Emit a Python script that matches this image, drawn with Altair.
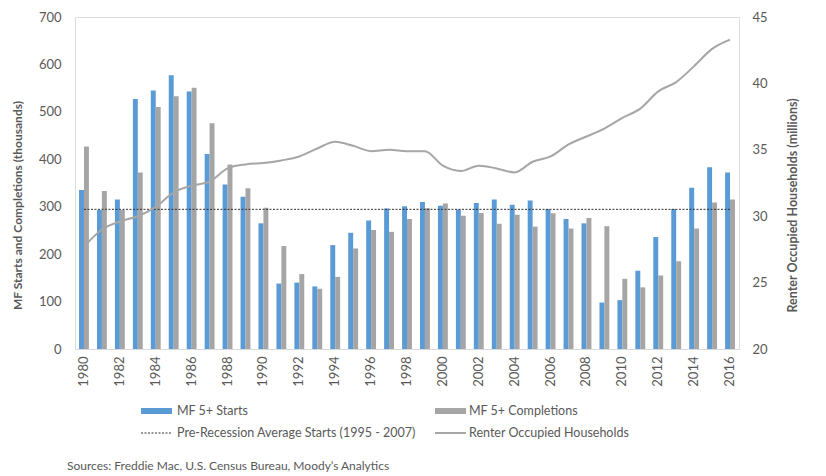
import altair as alt
import pandas as pd

# ---- data -----------------------------------------------------------------
years = list(range(1980, 2017))

# Multifamily (5+ units) starts and completions, thousands
mf_starts = [335, 293, 315, 527, 545, 577, 543, 411, 347, 321,
             265, 138, 140, 132, 219, 245, 271, 296, 301, 310,
             302, 294, 308, 315, 304, 313, 295, 274, 265, 98,
             103, 165, 236, 295, 340, 383, 372]
mf_completions = [427, 333, 293, 372, 510, 533, 551, 476, 389, 339,
                  298, 217, 158, 127, 152, 212, 251, 247, 274, 297,
                  307, 281, 287, 264, 283, 258, 286, 254, 276, 259,
                  148, 130, 155, 185, 254, 309, 315]

# Renter occupied households, millions
renter_households = [27.7, 29.0, 29.6, 30.0, 30.7, 31.8, 32.3, 32.6, 33.6, 33.9,
                     34.0, 34.2, 34.5, 35.1, 35.6, 35.3, 34.9, 35.0, 34.9, 34.9,
                     33.8, 33.4, 33.8, 33.6, 33.3, 34.1, 34.5, 35.4, 36.0, 36.6,
                     37.4, 38.1, 39.4, 40.1, 41.3, 42.6, 43.3]

series_names = ["MF 5+ Starts", "MF 5+ Completions"]
line_names = ["Pre-Recession Average Starts (1995 - 2007)", "Renter Occupied Households"]
source_note = "Sources: Freddie Mac, U.S. Census Bureau, Moody\u2019s Analytics"

# ---- tables ---------------------------------------------------------------
bars_df = pd.DataFrame({
    "year": years * 2,
    "series": [series_names[0]] * len(years) + [series_names[1]] * len(years),
    "value": mf_starts + mf_completions,
})

# average of starts over 1995-2007
pre_avg = sum(v for y, v in zip(years, mf_starts) if 1995 <= y <= 2007) / 13
avg_df = pd.DataFrame({"year": years, "avg": [pre_avg] * len(years)})
renter_df = pd.DataFrame({"year": years, "renter": renter_households})

# ---- style ----------------------------------------------------------------
FONT = "Lato"
TXT = "#595959"
BLUE = "#5b9bd5"
GREY = "#a5a5a5"
LINE_GREY = "#a6a6a6"
W, H = 664, 332

x_enc = alt.X(
    "year:O",
    scale=alt.Scale(paddingInner=0.45, paddingOuter=0.225),
    axis=alt.Axis(
        values=list(range(1980, 2017, 2)), labelAngle=270, labelPadding=7,
        labelFontSize=13, labelColor=TXT, labelFont=FONT, ticks=False,
        domainColor="#d9d9d9", domainWidth=1, grid=False, title=None,
    ),
)

left_title = "MF Starts and Completions (thousands)"
left_axis = alt.Axis(
    values=list(range(0, 701, 100)), labelPadding=14, labelFontSize=13,
    labelColor=TXT, labelFont=FONT, ticks=False, domain=False, grid=False,
    title=left_title, titleFont=FONT, titleFontSize=12, titleFontWeight="bold",
    titleColor=TXT, titleAngle=270, titleX=-58, titleY=188, titleBaseline="middle",
)
left_scale = alt.Scale(domain=[0, 700], nice=False)

bars = alt.Chart(bars_df).mark_bar().encode(
    x=x_enc,
    xOffset=alt.XOffset("series:N", sort=series_names, scale=alt.Scale(paddingInner=0, paddingOuter=0)),
    y=alt.Y("value:Q", scale=left_scale, axis=left_axis),
    color=alt.Color("series:N", scale=alt.Scale(domain=series_names, range=[BLUE, GREY]), legend=None),
)

avg_line = alt.Chart(avg_df).mark_line(color="#303030", strokeWidth=1, strokeDash=[2, 1.5]).encode(
    x=alt.X("year:O"),
    y=alt.Y("avg:Q", scale=left_scale, axis=left_axis),
)

right_axis = alt.Axis(
    orient="right", values=list(range(20, 46, 5)), labelPadding=13, labelFontSize=13,
    labelColor=TXT, labelFont=FONT, ticks=False, domain=False, grid=False,
    title="Renter Occupied Households (millions)", titleFont=FONT, titleFontSize=12.5,
    titleFontWeight="bold", titleColor=TXT, titleAngle=270, titleX=53, titleY=188,
    titleBaseline="middle",
)
renter_line = alt.Chart(renter_df).mark_line(
    color=LINE_GREY, strokeWidth=2, interpolate="monotone"
).encode(
    x=alt.X("year:O"),
    y=alt.Y("renter:Q", scale=alt.Scale(domain=[20, 45], nice=False), axis=right_axis),
)

# ---- legend and source note (drawn below the plot) -------------------------
one = alt.Data(values=[{}])
ROW1, ROW2 = 394, 416
COL1, COL2 = 66, 360
SW = 31


def legend_text(label, x, y):
    return alt.Chart(one).mark_text(
        align="left", baseline="middle", font=FONT, fontSize=12.5, color=TXT
    ).encode(x=alt.value(x), y=alt.value(y), text=alt.value(label))


leg_starts_sw = alt.Chart(one).mark_rect(color=BLUE).encode(
    x=alt.value(COL1), x2=alt.value(COL1 + SW), y=alt.value(ROW1 - 3), y2=alt.value(ROW1 + 3))
leg_comp_sw = alt.Chart(one).mark_rect(color=GREY).encode(
    x=alt.value(COL2), x2=alt.value(COL2 + SW), y=alt.value(ROW1 - 3), y2=alt.value(ROW1 + 3))
leg_avg_sw = alt.Chart(one).mark_rule(color="#303030", strokeWidth=1, strokeDash=[2, 1.5]).encode(
    x=alt.value(COL1), x2=alt.value(COL1 + SW), y=alt.value(ROW2))
leg_renter_sw = alt.Chart(one).mark_rule(color=LINE_GREY, strokeWidth=2).encode(
    x=alt.value(COL2), x2=alt.value(COL2 + SW), y=alt.value(ROW2))

source = alt.Chart(one).mark_text(
    align="left", baseline="middle", font=FONT, fontSize=12, color=TXT
).encode(x=alt.value(-8), y=alt.value(449), text=alt.value(source_note))

chart = alt.layer(
    alt.layer(bars, avg_line),
    renter_line,
    leg_starts_sw, leg_comp_sw, leg_avg_sw, leg_renter_sw,
    legend_text(series_names[0], COL1 + SW + 5, ROW1),
    legend_text(series_names[1], COL2 + SW + 3, ROW1),
    legend_text(line_names[0], COL1 + SW + 5, ROW2),
    legend_text(line_names[1], COL2 + SW + 3, ROW2),
    source,
).resolve_scale(
    y="independent"
).properties(
    width=W, height=H,
    autosize=alt.AutoSizeParams(type="none"),
    padding={"left": 75, "top": 17, "right": 87, "bottom": 127},
).configure_view(
    stroke=None
).configure(
    font=FONT, background="white"
)

chart.save("out.html", embed_options={"renderer": "svg", "actions": False})
